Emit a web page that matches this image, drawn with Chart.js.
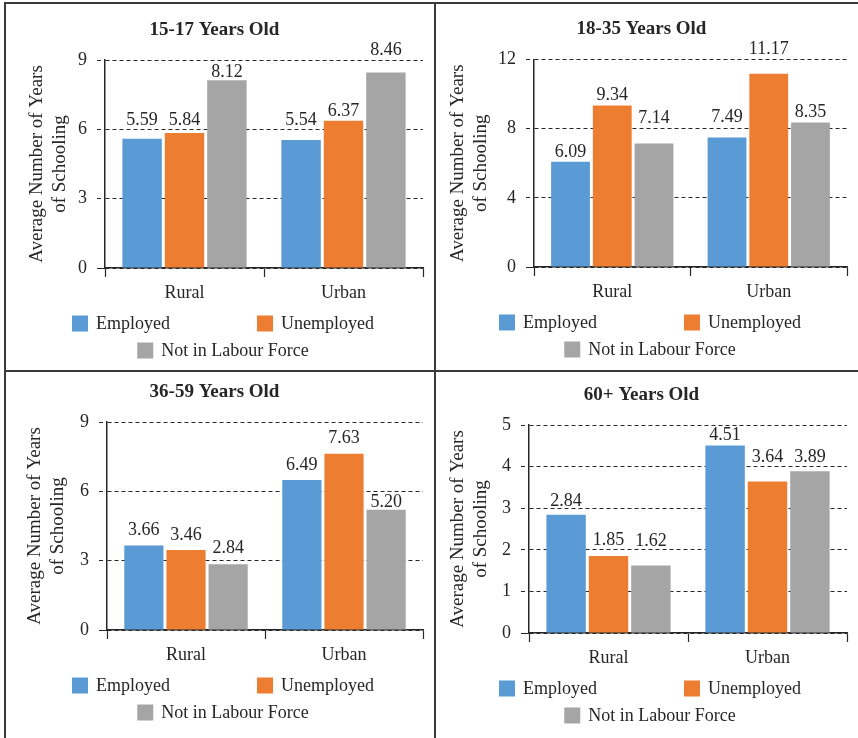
<!DOCTYPE html>
<html>
<head>
<meta charset="utf-8">
<script src="https://cdn.jsdelivr.net/npm/chart.js@4.4.1/dist/chart.umd.min.js"></script>
<style>
  body { margin: 0; background: #fff; }
  #wrap { position: relative; width: 858px; height: 738px; overflow: hidden; background: #fff; }
  #wrap canvas { position: absolute; }
  .rule { position: absolute; background: #3a3a3a; }
</style>
</head>
<body>
<div id="wrap">
  <div class="rule" style="left:4px;top:2px;width:2px;height:736px"></div>
  <div class="rule" style="left:4px;top:2px;width:854px;height:2px"></div>
  <div class="rule" style="left:434px;top:2px;width:2px;height:736px"></div>
  <div class="rule" style="left:4px;top:370px;width:854px;height:2px"></div>
  <canvas id="c0" width="428" height="366" style="left:6px;top:4px"></canvas>
  <canvas id="c1" width="422" height="366" style="left:436px;top:4px"></canvas>
  <canvas id="c2" width="428" height="366" style="left:6px;top:372px"></canvas>
  <canvas id="c3" width="422" height="366" style="left:436px;top:372px"></canvas>
</div>
<script>
// data, one entry per panel: 15-17, 18-35, 36-59, 60+
var categories = ["Rural", "Urban"];
var seriesNames = ["Employed", "Unemployed", "Not in Labour Force"];
var panelTitles = ["15-17 Years Old", "18-35 Years Old", "36-59 Years Old", "60+ Years Old"];
var employed = [[5.59, 5.54], [6.09, 7.49], [3.66, 6.49], [2.84, 4.51]];
var unemployed = [[5.84, 6.37], [9.34, 11.17], [3.46, 7.63], [1.85, 3.64]];
var notInLabourForce = [[8.12, 8.46], [7.14, 8.35], [2.84, 5.20], [1.62, 3.89]];
var yMax = [9, 12, 9, 5];
var yStep = [3, 4, 3, 1];

var colors = ["#5B9BD5", "#ED7D31", "#A5A5A5"];
var ink = "#262626";
var serif = "'Liberation Serif', 'Times New Roman', serif";

// layout of each panel (pixels inside its canvas)
var layoutCfg = [
    {left: 99, top: 56, bottom: 264, titleY: 26, yTitle: 31},
    {left: 98, top: 55.5, bottom: 263, titleY: 25, yTitle: 22.5},
    {left: 101, top: 50, bottom: 258, titleY: 20, yTitle: 29},
    {left: 93, top: 53, bottom: 261, titleY: 23, yTitle: 22}
];
// how far each value label sits above its bar: [series][category]
var labelLift = [
    [[14, 15], [8, 5], [3, 17]],
    [[5, 15], [5, 20], [21, 6]],
    [[10, 10], [10, 11], [11, 3]],
    [[9, 5], [11, 20], [20, 9]]
];

var valueLabels = {
    id: "valueLabels",
    afterDatasetsDraw: function(chart) {
        var ctx = chart.ctx;
        var lifts = chart.options.plugins.valueLabels.lift;
        ctx.save();
        ctx.font = "18px " + serif;
        ctx.fillStyle = ink;
        ctx.textAlign = "center";
        ctx.textBaseline = "alphabetic";
        chart.data.datasets.forEach(function(ds, i) {
            chart.getDatasetMeta(i).data.forEach(function(bar, j) {
                ctx.fillText(ds.data[j].toFixed(2), bar.x, bar.y - lifts[i][j]);
            });
        });
        ctx.restore();
    }
};

var boxLegend = {
    id: "boxLegend",
    afterDraw: function(chart) {
        var ctx = chart.ctx;
        var ds = chart.data.datasets;
        var area = chart.chartArea;
        var cx = chart.width / 2 + 3;
        var box = 16, gap = 8, colStep = 185;
        ctx.save();
        ctx.font = "18px " + serif;
        ctx.fillStyle = ink;
        ctx.textBaseline = "middle";
        ctx.textAlign = "left";
        var y1 = area.bottom + 55.5, y2 = area.bottom + 82.5;
        var w1 = colStep + box + gap + ctx.measureText(ds[1].label).width;
        var x0 = cx - w1 / 2;
        var items = [
            {x: x0, y: y1, d: ds[0]},
            {x: x0 + colStep, y: y1, d: ds[1]}
        ];
        var w2 = box + gap + ctx.measureText(ds[2].label).width;
        items.push({x: cx - w2 / 2, y: y2, d: ds[2]});
        items.forEach(function(it) {
            ctx.fillStyle = it.d.backgroundColor;
            ctx.fillRect(it.x, it.y - box / 2, box, box);
            ctx.fillStyle = ink;
            ctx.fillText(it.d.label, it.x + box + gap, it.y + 1);
        });
        ctx.restore();
    }
};

function makePanel(p) {
    var lay = layoutCfg[p];
    var canvas = document.getElementById("c" + p);
    var values = [employed[p], unemployed[p], notInLabourForce[p]];
    var datasets = seriesNames.map(function(name, i) {
        return {
            label: name,
            data: values[i],
            backgroundColor: colors[i],
            borderWidth: 0,
            categoryPercentage: 0.8,
            barPercentage: 0.93
        };
    });
    new Chart(canvas.getContext("2d"), {
        type: "bar",
        data: {labels: categories, datasets: datasets},
        plugins: [valueLabels, boxLegend],
        options: {
            responsive: false,
            animation: false,
            devicePixelRatio: 1,
            layout: {
                padding: {
                    left: 0,
                    right: 11,
                    top: lay.titleY - 11.4,
                    bottom: canvas.height - lay.bottom - 35
                }
            },
            plugins: {
                legend: {display: false},
                tooltip: {enabled: false},
                title: {
                    display: true,
                    text: panelTitles[p],
                    color: ink,
                    font: {family: serif, size: 19, weight: "bold", lineHeight: 1.2},
                    padding: {top: 0, bottom: lay.top - lay.titleY - 11.4}
                },
                valueLabels: {lift: labelLift[p]}
            },
            scales: {
                x: {
                    afterFit: function(scale) { scale.height = 35; },
                    grid: {
                        display: true,
                        offset: true,
                        drawOnChartArea: false,
                        drawTicks: true,
                        tickLength: 9,
                        tickColor: ink,
                        tickWidth: 1.2
                    },
                    border: {display: true, color: ink, width: 1.5},
                    ticks: {
                        color: ink,
                        padding: 5,
                        font: {family: serif, size: 18}
                    }
                },
                y: {
                    min: 0,
                    max: yMax[p],
                    afterFit: function(scale) { scale.width = lay.left; },
                    ticks: {
                        stepSize: yStep[p],
                        color: ink,
                        padding: 10,
                        font: {family: serif, size: 18}
                    },
                    grid: {
                        color: ink,
                        lineWidth: 1,
                        tickLength: 8,
                        tickColor: ink,
                        tickBorderDash: function(c) { return c.tick && c.tick.value === 0 ? [] : [4, 3]; }
                    },
                    border: {display: true, color: ink, width: 1.5, dash: [4, 3]},
                    title: {
                        display: true,
                        text: ["Average Number of Years", "of Schooling"],
                        color: ink,
                        font: {family: serif, size: 19, lineHeight: 1.21},
                        padding: {top: lay.yTitle - 11.5, bottom: 0}
                    }
                }
            }
        }
    });
}

for (var p = 0; p < 4; p++) {
    makePanel(p);
}
</script>
</body>
</html>
